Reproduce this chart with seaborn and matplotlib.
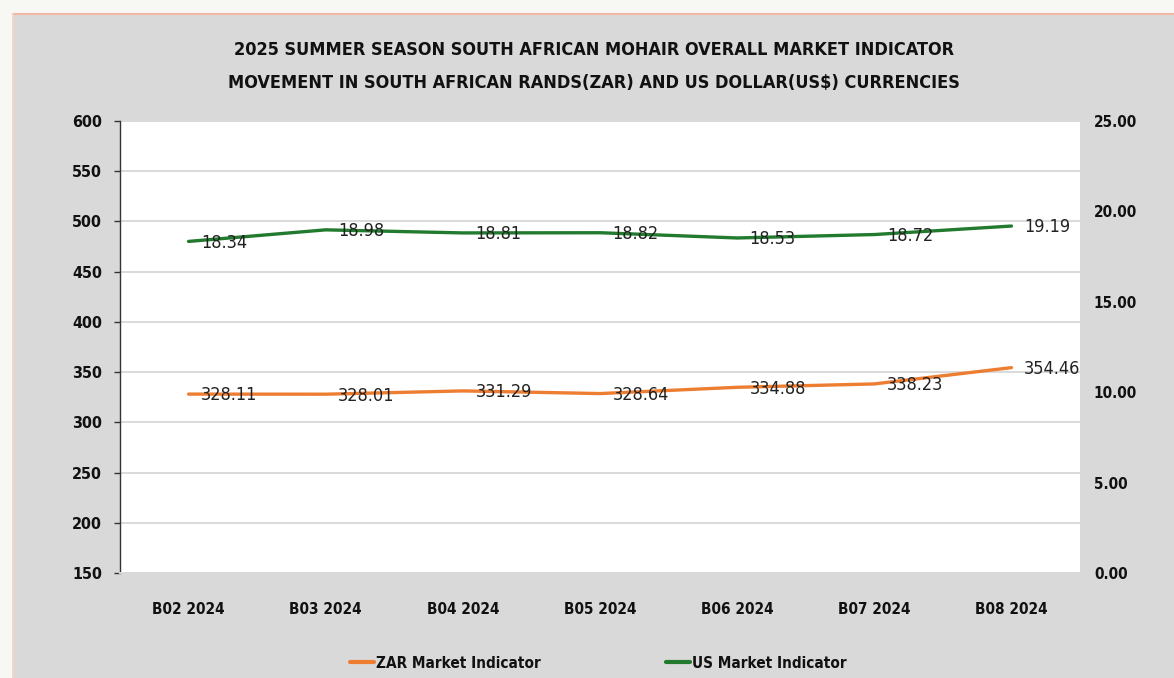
import matplotlib
matplotlib.use("Agg")
import matplotlib.pyplot as plt
from matplotlib import font_manager as fm
from matplotlib.patches import Rectangle
from matplotlib.lines import Line2D
import seaborn as sns
import pandas as pd

categories = ["B02 2024", "B03 2024", "B04 2024", "B05 2024", "B06 2024", "B07 2024", "B08 2024"]
zar_values = [328.11, 328.01, 331.29, 328.64, 334.88, 338.23, 354.46]
us_values = [18.34, 18.98, 18.81, 18.82, 18.53, 18.72, 19.19]
left_ticks = [150, 200, 250, 300, 350, 400, 450, 500, 550, 600]
right_ticks = [0, 5, 10, 15, 20, 25]
title = ("2025 SUMMER SEASON SOUTH AFRICAN MOHAIR OVERALL MARKET INDICATOR\n"
         "MOVEMENT IN SOUTH AFRICAN RANDS(ZAR) AND US DOLLAR(US$) CURRENCIES")
zar_label = "ZAR Market Indicator"
us_label = "US Market Indicator"

sns.set_theme(style="white")
names = {f.name for f in fm.fontManager.ttflist}
narrow = "Liberation Sans Narrow" if "Liberation Sans Narrow" in names else "DejaVu Sans"
plt.rcParams['font.family'] = ['DejaVu Sans']

ORANGE = "#ED7D31"
GREEN = "#217a2e"
PANEL = "#d9d9d9"

df = pd.DataFrame({"cat": categories, "zar": zar_values, "us": us_values})
df["x"] = range(len(categories))

fig = plt.figure(figsize=(11.74, 6.78), dpi=100)
fig.patch.set_facecolor("#f7f7f3")
fig.patches.append(Rectangle((13/1174, 0), 1, 663/678, transform=fig.transFigure,
                             facecolor=PANEL, edgecolor="none", zorder=-10))
fig.add_artist(Line2D([13/1174, 1], [664/678, 664/678], color="#f2b8a6", lw=1.5))
fig.add_artist(Line2D([13/1174, 13/1174], [0, 664/678], color="#f2d3c8", lw=1.2))

ax = fig.add_axes([120/1174, 105/678, 960/1174, 452/678])
ax.set_facecolor("white")
ax2 = ax.twinx()

sns.lineplot(data=df, x="x", y="zar", ax=ax, color=ORANGE, lw=2.4, legend=False)
sns.lineplot(data=df, x="x", y="us", ax=ax2, color=GREEN, lw=2.4, legend=False)

ax.set_xlim(-0.5, len(categories) - 0.5)
ax.set_ylim(150, 600)
ax2.set_ylim(0, 25)
ax.set_yticks(left_ticks)
ax2.set_yticks(right_ticks)
ax2.set_yticklabels([f"{v:.2f}" for v in right_ticks])
ax.set_xticks(df["x"])
ax.set_xticklabels(categories)
ax.set_xlabel("")
ax.set_ylabel("")
ax2.set_ylabel("")

ax.yaxis.grid(True, color="#d9d9d9", lw=1.4)
ax.set_axisbelow(True)

for lab in ax.get_xticklabels() + ax.get_yticklabels() + ax2.get_yticklabels():
    lab.set_fontsize(11)
    lab.set_fontweight("bold")
    lab.set_fontstretch("condensed")
    lab.set_color("#111111")
for lab in ax.get_yticklabels():
    lab.set_fontsize(11.5)

ax.tick_params(axis="x", length=0, pad=21)
ax.tick_params(axis="y", left=True, length=4, width=1, color="#333333", pad=9)
ax2.tick_params(axis="y", right=False, length=0, pad=10)

for s in ["top", "right"]:
    ax.spines[s].set_visible(False)
    ax2.spines[s].set_visible(False)
ax2.spines["left"].set_visible(False)
ax2.spines["bottom"].set_visible(False)
ax.spines["left"].set_color("#333333")
ax.spines["left"].set_linewidth(1)
ax.spines["bottom"].set_color("#d9d9d9")
ax.spines["bottom"].set_linewidth(1.4)

for x, v in zip(df["x"], zar_values):
    ax.annotate(f"{v:.2f}", (x, v), xytext=(9, -1), textcoords="offset points",
                ha="left", va="center", fontsize=13, family=narrow,
                fontstretch="condensed", color="#222222")
for x, v in zip(df["x"], us_values):
    ax2.annotate(f"{v:.2f}", (x, v), xytext=(9, -1), textcoords="offset points",
                 ha="left", va="center", fontsize=13, family=narrow,
                 fontstretch="condensed", color="#222222")

fig.text(594/1174, 1 - 66.5/678, title, ha="center", va="center", fontsize=13,
         fontweight="bold", fontstretch="condensed", color="#111111", linespacing=2.1)

handles = [Line2D([], [], color=ORANGE, lw=3), Line2D([], [], color=GREEN, lw=3)]
leg = fig.legend(handles, [zar_label, us_label], loc="center", ncol=2,
                 bbox_to_anchor=(598/1174, 1 - 663/678), frameon=False,
                 handlelength=1.6, handletextpad=0.1, columnspacing=8.2,
                 prop=dict(size=11, weight="bold", stretch="condensed"))
for t in leg.get_texts():
    t.set_color("#111111")

fig.savefig("out.png", dpi=100, facecolor=fig.get_facecolor())
